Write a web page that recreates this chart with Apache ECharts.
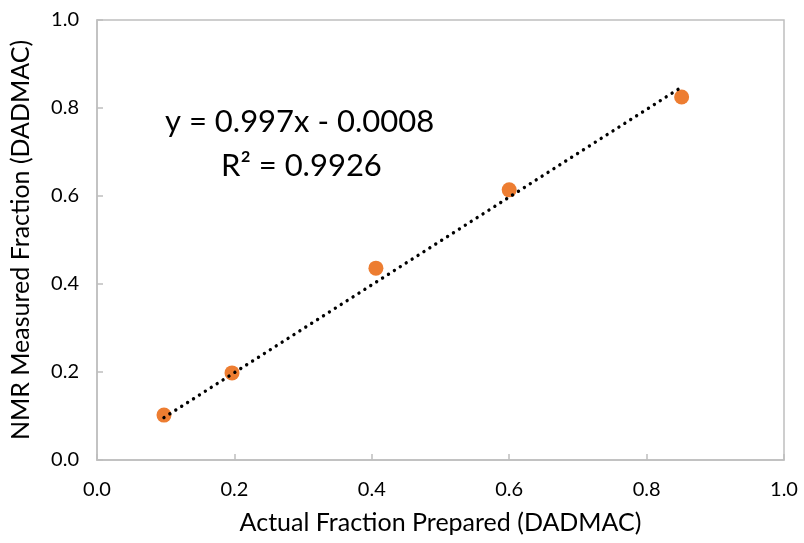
<!DOCTYPE html>
<html>
<head>
<meta charset="utf-8">
<script src="https://cdn.jsdelivr.net/npm/echarts@6/dist/echarts.min.js"></script>
<style>html,body{margin:0;padding:0;background:#fff}#c{width:804px;height:543px}</style>
</head>
<body>
<div id="c"></div>
<script>
const actualFraction = [0.0975, 0.1965, 0.406, 0.600, 0.851];
const nmrFraction = [0.102, 0.198, 0.436, 0.614, 0.825];
const trendSlope = [0.997];
const trendIntercept = [-0.0008];
const axisTicks = [0, 0.2, 0.4, 0.6, 0.8, 1.0];
const xTitle = 'Actual Fraction Prepared (DADMAC)';
const yTitle = 'NMR Measured Fraction (DADMAC)';
const eqText = ['y = 0.997x - 0.0008', 'R² = 0.9926'];

const FONT = 'Lato';
const pts = actualFraction.map((x, i) => [x, nmrFraction[i]]);
const xMin = Math.min(...actualFraction), xMax = Math.max(...actualFraction);
const trend = [xMin, xMax].map(x => [x, trendSlope[0] * x + trendIntercept[0]]);

const axisCommon = {
  min: axisTicks[0], max: axisTicks[axisTicks.length - 1], interval: 0.2,
  axisLine: {show: true, onZero: false, lineStyle: {color: '#bfbfbf', width: 1.5}},
  axisTick: {show: true, inside: true, length: 6, lineStyle: {color: '#bfbfbf', width: 1.5}},
  splitLine: {show: false},
  axisLabel: {color: '#000', fontFamily: FONT, fontSize: 20, formatter: v => v.toFixed(1)},
  nameTextStyle: {color: '#000', fontFamily: FONT, fontSize: 25},
  nameLocation: 'middle'
};

const chart = echarts.init(document.getElementById('c'), null, {renderer: 'canvas'});
chart.setOption({
  animation: false,
  backgroundColor: '#fff',
  grid: {left: 97, right: 20, top: 20, bottom: 83, show: true, borderColor: '#bfbfbf', borderWidth: 1.5, backgroundColor: 'transparent'},
  xAxis: Object.assign({}, axisCommon, {type: 'value', name: xTitle, nameGap: 50,
    axisLabel: Object.assign({}, axisCommon.axisLabel, {margin: 20})}),
  yAxis: Object.assign({}, axisCommon, {type: 'value', name: yTitle, nameGap: 64,
    axisLabel: Object.assign({}, axisCommon.axisLabel, {margin: 18})}),
  graphic: [
    {type: 'text', left: 165, top: 106, style: {text: eqText[0], font: '31px ' + FONT, fill: '#000'}},
    {type: 'text', left: 221, top: 150, style: {text: eqText[1], font: '31px ' + FONT, fill: '#000'}}
  ],
  series: [
    {type: 'scatter', data: pts, symbol: 'circle', symbolSize: 15, itemStyle: {color: '#ED7D31', opacity: 1}, z: 2},
    {type: 'line', data: trend, symbol: 'none', z: 3,
     lineStyle: {color: '#000', width: 3.4, type: [0.01, 7], cap: 'round'}}
  ]
});
</script>
</body>
</html>
